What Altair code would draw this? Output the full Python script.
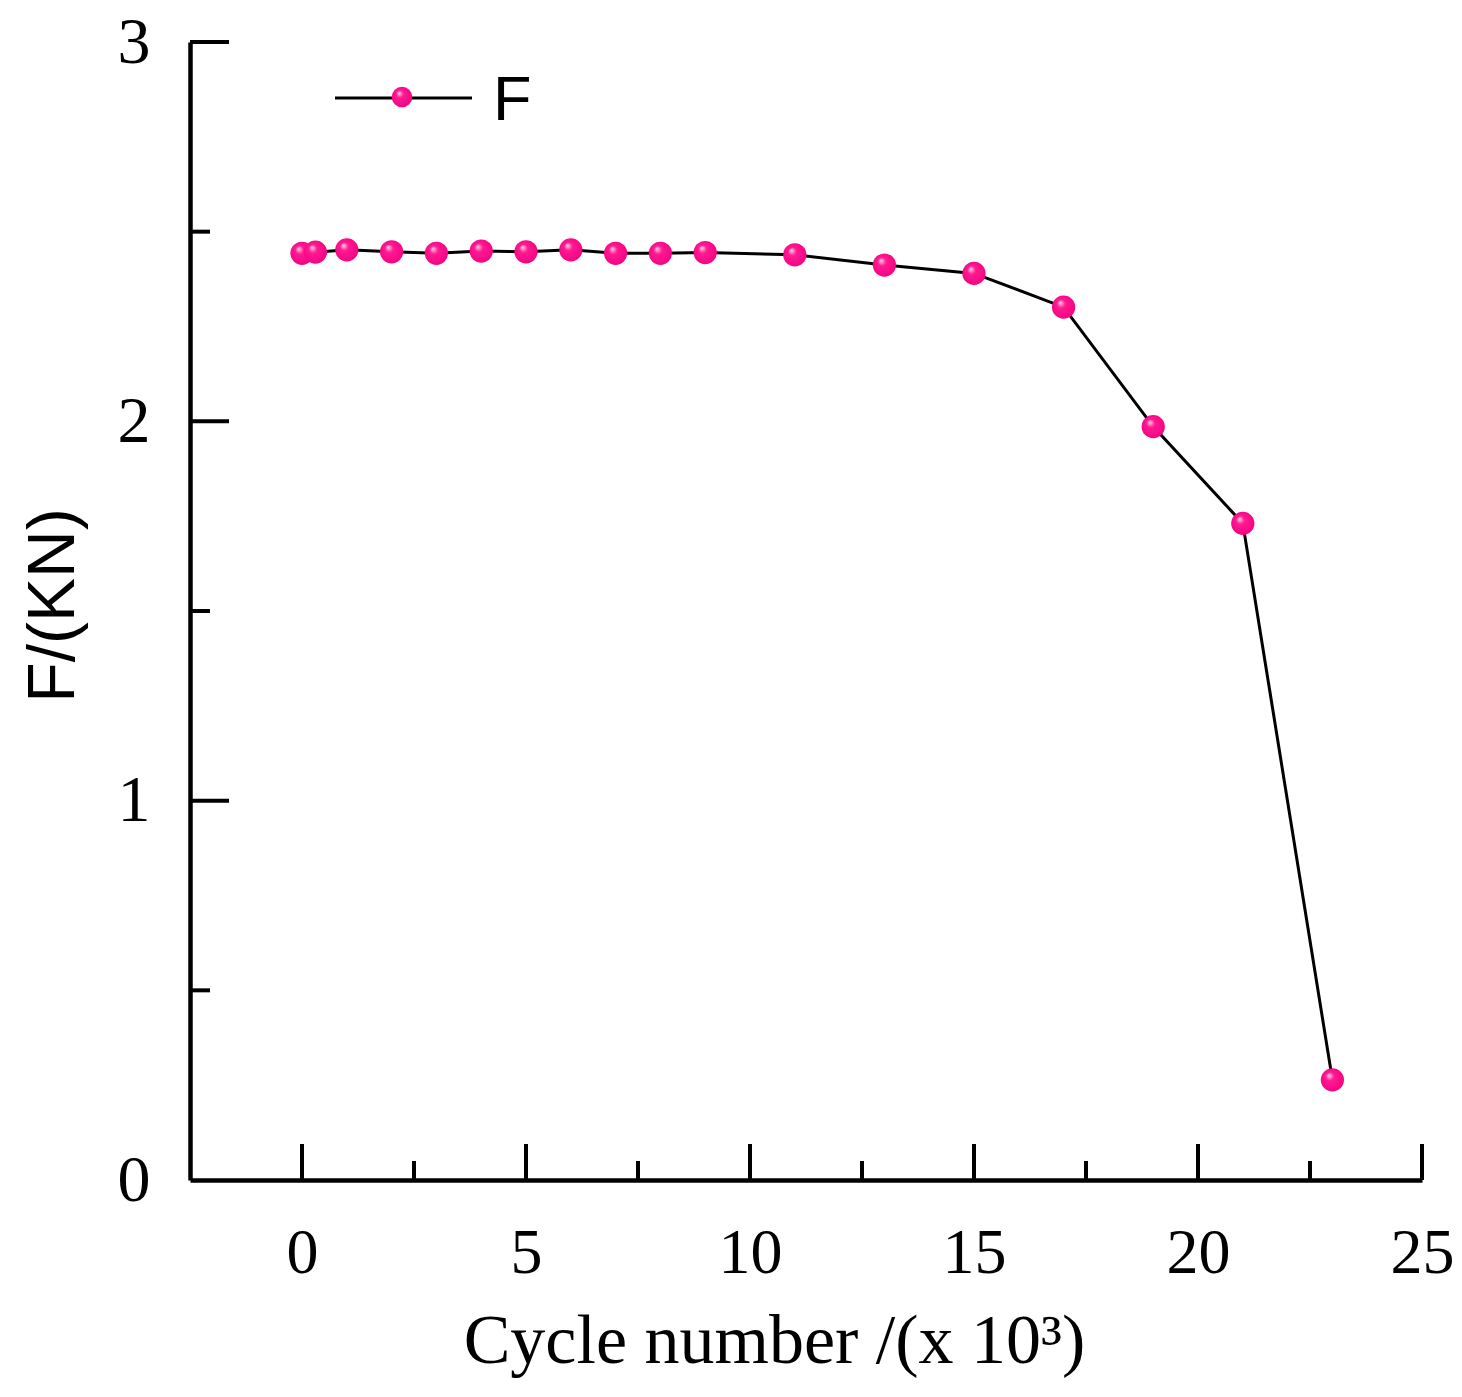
import altair as alt
import pandas as pd

# ---- data ----
cycles = [0, 0.3, 1, 2, 3, 4, 5, 6, 7, 8, 9, 11, 13, 15, 17, 19, 21, 23]
force = [2.443, 2.446, 2.452, 2.447, 2.443, 2.449, 2.447, 2.452, 2.443, 2.443,
         2.445, 2.439, 2.412, 2.390, 2.301, 1.986, 1.731, 0.264]

x_major = [0, 5, 10, 15, 20, 25]
x_minor = [2.5, 7.5, 12.5, 17.5, 22.5]
y_major = [1, 2, 3]
y_minor = [0.5, 1.5, 2.5]

series_name = "F"
x_title = "Cycle number /(x 10³)"
y_title = "F/(KN)"

W, H = 1232, 1138
df = pd.DataFrame({"cycle": cycles, "F": force})

xs = alt.Scale(domain=[-2.5, 25], nice=False, zero=False)
ys = alt.Scale(domain=[0, 3], nice=False)

SERIF = "Liberation Serif"
SANS = "Liberation Sans"

pink = alt.Gradient(
    gradient="radial",
    x1=0.35, y1=0.3, r1=0.0,
    x2=0.5, y2=0.5, r2=0.6,
    stops=[
        alt.GradientStop(offset=0, color="#ffd6ea"),
        alt.GradientStop(offset=0.3, color="#ff1a92"),
        alt.GradientStop(offset=1, color="#f2007f"),
    ],
)

line = alt.Chart(df).mark_line(color="black", strokeWidth=3).encode(
    x=alt.X("cycle:Q", scale=xs,
            axis=alt.Axis(values=x_major, format="d", ticks=False, tickSize=0, grid=False,
                          labelFont=SERIF, labelFontSize=64, labelColor="black",
                          labelPadding=41, labelFlush=False,
                          title=x_title, titleFont=SERIF, titleFontSize=70,
                          titleFontWeight="normal", titleColor="black",
                          titleX=584, titleY=182, titleAlign="center",
                          titleBaseline="alphabetic",
                          domainColor="black", domainWidth=4.5)),
    y=alt.Y("F:Q", scale=ys,
            axis=alt.Axis(values=[0, 1, 2, 3], format="d", ticks=False, tickSize=0, grid=False,
                          labelFont=SERIF, labelFontSize=66, labelColor="black",
                          labelPadding=40, labelFlush=False,
                          title=y_title, titleFont=SANS, titleFontSize=66,
                          titleFontWeight="normal", titleColor="black",
                          titleAngle=270, titleX=-117, titleY=563, titleAlign="center",
                          titleBaseline="alphabetic",
                          domainColor="black", domainWidth=4.5)),
)

points = alt.Chart(df).mark_circle(size=540, opacity=1, fill=pink, strokeWidth=0).encode(
    x=alt.X("cycle:Q", scale=xs),
    y=alt.Y("F:Q", scale=ys),
)

xmaj_df = pd.DataFrame({"v": x_major})
xmin_df = pd.DataFrame({"v": x_minor})
ymaj_df = pd.DataFrame({"v": y_major})
ymin_df = pd.DataFrame({"v": y_minor})

tick_style = dict(color="black", strokeWidth=4)
xt_major = alt.Chart(xmaj_df).mark_rule(**tick_style).encode(
    x=alt.X("v:Q", scale=xs), y=alt.value(H), y2=alt.value(H - 36))
xt_minor = alt.Chart(xmin_df).mark_rule(**tick_style).encode(
    x=alt.X("v:Q", scale=xs), y=alt.value(H), y2=alt.value(H - 19))
yt_major = alt.Chart(ymaj_df).mark_rule(**tick_style).encode(
    y=alt.Y("v:Q", scale=ys), x=alt.value(0), x2=alt.value(39))
yt_minor = alt.Chart(ymin_df).mark_rule(**tick_style).encode(
    y=alt.Y("v:Q", scale=ys), x=alt.value(0), x2=alt.value(20))

# ---- legend (drawn by hand) ----
leg_df = pd.DataFrame({"name": [series_name]})
leg_line = alt.Chart(leg_df).mark_rule(color="black", strokeWidth=3).encode(
    x=alt.value(145), x2=alt.value(282), y=alt.value(56))
leg_pt = alt.Chart(leg_df).mark_circle(size=420, opacity=1, fill=pink, strokeWidth=0).encode(
    x=alt.value(212), y=alt.value(55))
leg_txt = alt.Chart(leg_df).mark_text(font=SANS, fontSize=63, align="left",
                                      baseline="alphabetic", color="black").encode(
    x=alt.value(303), y=alt.value(78), text="name:N")

chart = alt.layer(
    xt_major, xt_minor, yt_major, yt_minor, line, points, leg_line, leg_pt, leg_txt
).properties(
    width=W, height=H,
    autosize="none",
    padding={"left": 182, "top": 34, "right": 32, "bottom": 198},
    background="white",
).configure_view(stroke=None)

chart.save("out.html", embed_options={"renderer": "svg", "actions": False})
